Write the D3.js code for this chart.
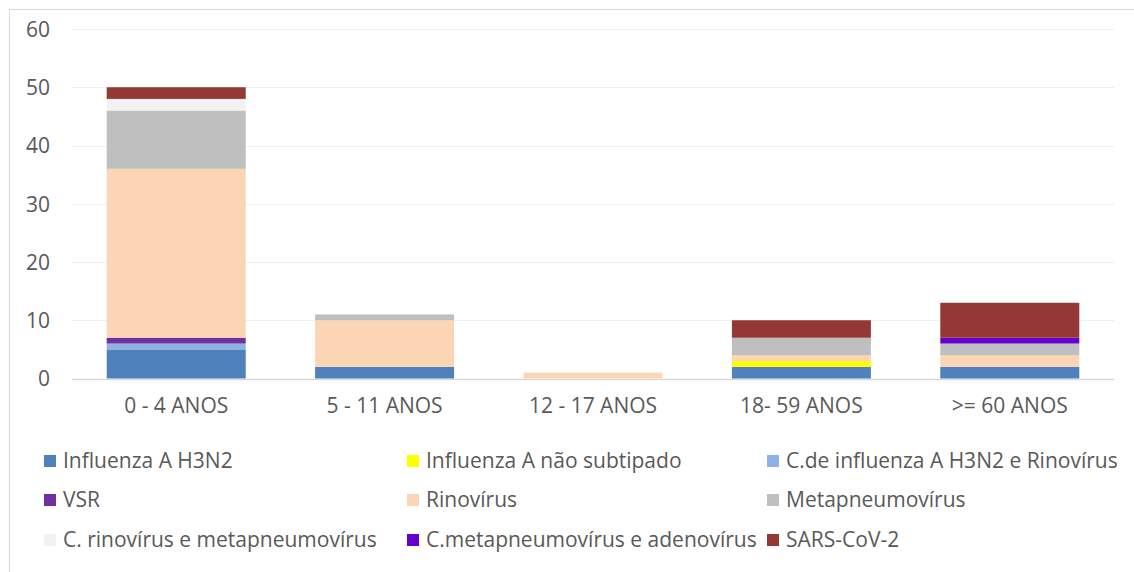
<!DOCTYPE html>
<html>
<head>
<meta charset="utf-8">
<script src="https://cdn.jsdelivr.net/npm/d3@7"></script>
<style>
  body { margin: 0; background: #fff; }
  text { font-family: "Open Sans", "Noto Sans", sans-serif; fill: #595959; }
</style>
</head>
<body>
<div id="chart"></div>
<script>
// age groups on the x axis
const groups = ['0 - 4 ANOS', '5 - 11 ANOS', '12 - 17 ANOS', '18- 59 ANOS', '>= 60 ANOS']

const series = [
  'Influenza A H3N2',
  'Influenza A não subtipado',
  'C.de influenza A H3N2 e Rinovírus',
  'VSR',
  'Rinovírus',
  'Metapneumovírus',
  'C. rinovírus e metapneumovírus',
  'C.metapneumovírus e adenovírus',
  'SARS-CoV-2'
]

const colors = ['#4f81bd', '#ffff00', '#8db3e2', '#7030a0', '#fcd5b5', '#bfbfbf', '#f2f2f2', '#6600cc', '#953735']

// one array per series, values per age group
const h3n2       = [5, 2, 0, 2, 2]
const naoSub     = [0, 0, 0, 1, 0]
const coInfRino  = [1, 0, 0, 0, 0]
const vsr        = [1, 0, 0, 0, 0]
const rino       = [29, 8, 1, 1, 2]
const metap      = [10, 1, 0, 3, 2]
const coRinoMeta = [2, 0, 0, 0, 0]
const coMetaAdeno= [0, 0, 0, 0, 1]
const sars       = [2, 0, 0, 3, 6]

const yTicks = [0, 10, 20, 30, 40, 50, 60]

const valueLists = [h3n2, naoSub, coInfRino, vsr, rino, metap, coRinoMeta, coMetaAdeno, sars]

let table = groups.map(function(g, i){
    let row = {group: g}
    series.forEach(function(s, j){ row[s] = valueLists[j][i] })
    return row
})

let width = 1134, height = 572

let svg = d3.select('#chart').append('svg')
    .attr('width', width)
    .attr('height', height)

// chart frame
svg.append('rect')
    .attr('x', 9.5).attr('y', 9.5)
    .attr('width', 1140).attr('height', 580)
    .attr('fill', 'none')
    .attr('stroke', '#d9d9d9')

let x = d3.scaleBand()
    .domain(groups)
    .range([72, 1114])
    .paddingInner(0.333)
    .paddingOuter(0.1665)

let y = d3.scaleLinear()
    .domain([0, 60])
    .range([378.5, 29])

// grid lines
svg.append('g')
    .selectAll('.grid')
    .data(yTicks)
    .enter()
    .append('line')
    .attr('x1', 72)
    .attr('x2', 1114)
    .attr('y1', function(d){ return Math.round(y(d)) + 0.5 })
    .attr('y2', function(d){ return Math.round(y(d)) + 0.5 })
    .attr('stroke', function(d){ return d == 0 ? '#d9d9d9' : '#efefef' })
    .attr('stroke-width', function(d){ return d == 0 ? 1.5 : 1 })

let stack = d3.stack().keys(series)
let layers = stack(table)

svg.append('g')
    .selectAll('.layer')
    .data(layers)
    .enter()
    .append('g')
    .attr('fill', function(d, i){ return colors[i] })
    .selectAll('rect')
    .data(function(d){ return d })
    .enter()
    .append('rect')
    .attr('x', function(d){ return x(d.data.group) })
    .attr('width', x.bandwidth())
    .attr('y', function(d){ return y(d[1]) })
    .attr('height', function(d){ return y(d[0]) - y(d[1]) })

// y axis labels
let yAxis = svg.append('g')
    .attr('transform', 'translate(50,0)')
    .call(d3.axisLeft(y).tickValues(yTicks).tickSize(0).tickPadding(0))
yAxis.select('.domain').remove()
yAxis.selectAll('text')
    .attr('font-size', 21)
    .attr('dy', '0.35em')
    .style('font-family', '"Open Sans", sans-serif')
    .attr('fill', '#595959')

// x axis labels
let xAxis = svg.append('g')
    .attr('transform', 'translate(0,' + 378 + ')')
    .call(d3.axisBottom(x).tickSize(0).tickPadding(22))
xAxis.select('.domain').remove()
xAxis.selectAll('text')
    .attr('font-size', 21)
    .attr('dy', '0.6em')
    .style('font-family', '"Open Sans", sans-serif')
    .attr('fill', '#595959')

// legend, three columns
let legendCols = [44, 407, 767]
let legendRows = [461, 500, 540]

let legend = svg.append('g')
    .selectAll('.legend')
    .data(series)
    .enter()
    .append('g')
    .attr('transform', function(d, i){
        return 'translate(' + legendCols[i % 3] + ',' + legendRows[Math.floor(i / 3)] + ')'
    })

legend.append('rect')
    .attr('x', 0)
    .attr('y', -6)
    .attr('width', 12)
    .attr('height', 12)
    .attr('fill', function(d, i){ return colors[i] })

legend.append('text')
    .attr('x', 19)
    .attr('y', 0)
    .attr('dy', '0.35em')
    .attr('font-size', 21)
    .text(function(d){ return d })
</script>
</body>
</html>
